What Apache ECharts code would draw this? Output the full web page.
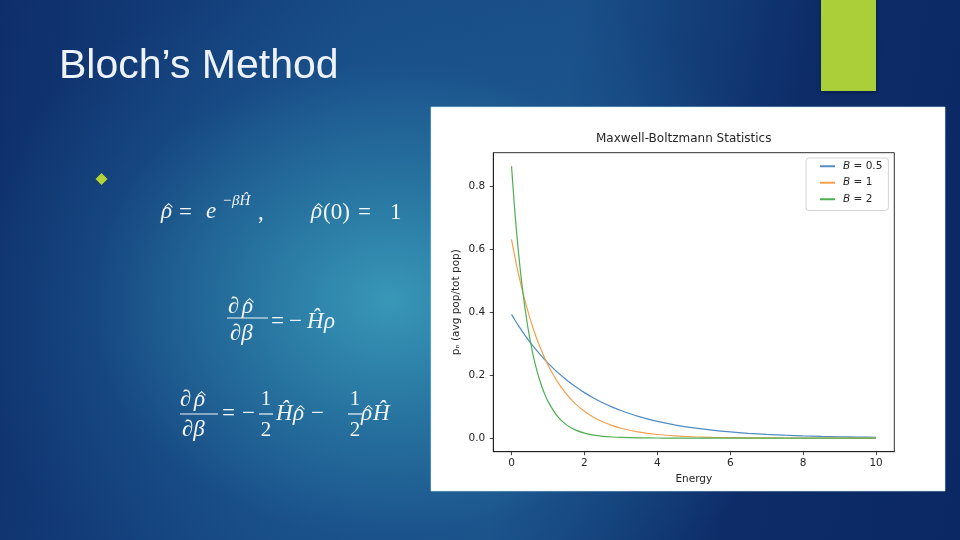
<!DOCTYPE html>
<html>
<head>
<meta charset="utf-8">
<script src="https://cdn.jsdelivr.net/npm/echarts@6/dist/echarts.min.js"></script>
<style>
html,body{margin:0;padding:0;width:960px;height:540px;overflow:hidden;}
body{
  background:
    radial-gradient(ellipse 430px 340px at 390px 300px, rgba(58,155,186,0.95) 0%, rgba(44,128,168,0.75) 35%, rgba(30,92,146,0.35) 70%, rgba(20,60,120,0) 100%),
    linear-gradient(100deg, #0e2e6a 0%, #174a86 35%, #1a4f88 55%, #0d2c68 78%, #0b2864 100%);
}
#chart{width:960px;height:540px;}
</style>
</head>
<body>
<div id="chart"></div>
<script>
// ---- data ----
const energy = [0,0.1,0.2,0.3,0.4,0.5,0.6,0.7,0.8,0.9,1.0,1.25,1.5,1.75,2.0,2.25,2.5,2.75,3.0,3.5,4,4.5,5,5.5,6,6.5,7,7.5,8,8.5,9,9.5,10];
const pB05 = [0.3935,0.3743,0.3561,0.3387,0.3222,0.3065,0.2915,0.2773,0.2638,0.2509,0.2387,0.2106,0.1859,0.1641,0.1447,0.1278,0.1127,0.0995,0.0878,0.0684,0.0533,0.0415,0.0323,0.0252,0.0196,0.0153,0.0119,0.0093,0.0072,0.0056,0.0044,0.0034,0.0027];
const pB1 = [0.6321,0.5720,0.5175,0.4683,0.4237,0.3834,0.3469,0.3139,0.2840,0.2570,0.2325,0.1811,0.1410,0.1098,0.0855,0.0666,0.0519,0.0404,0.0315,0.0191,0.0116,0.0070,0.0043,0.0026,0.0016,0.0010,0.0006,0.0004,0.0002,0.0001,0.0001,0.0000,0.0000];
const pB2 = [0.8647,0.7079,0.5796,0.4746,0.3885,0.3181,0.2604,0.2132,0.1746,0.1429,0.1170,0.0710,0.0430,0.0261,0.0158,0.0096,0.0058,0.0035,0.0021,0.0008,0.0003,0.0001,0,0,0,0,0,0,0,0,0,0,0];
const seriesNames = ['B = 0.5','B = 1','B = 2'];
const xTicks = [0,2,4,6,8,10];
const yTicks = [0,0.2,0.4,0.6,0.8];
const chartTitle = 'Maxwell-Boltzmann Statistics';
const xName = 'Energy';
const yName = 'pₙ (avg pop/tot pop)';
const slideTitle = 'Bloch’s Method';

const colors = ['#4f8cc2','#f5a04e','#4fae52'];
const pair = (ys) => energy.map((x,i)=>[x, ys[i]]);
const seriesData = [pB05, pB1, pB2];

const W = '#f2f5fa';
const MATH = '"Liberation Serif","DejaVu Serif",serif';
function txt(x, y, text, size, italic, align){
  return {type:'text', x:x, y:y, z:10, style:{
    text:text, fill:W, align:align||'left', verticalAlign:'middle',
    font:(italic?'italic ':'') + size + 'px ' + MATH
  }};
}
function hat(cx, y, size){
  const hw = 0.17*size, yb = y - 0.2*size, yt = y - 0.36*size;
  return {type:'polyline', z:10, shape:{points:[[cx-hw,yb],[cx,yt],[cx+hw,yb]]}, style:{stroke:W, lineWidth:1.1, fill:null}};
}
function rhoHat(x, y, size){
  return [txt(x, y, 'ρ', size, true), hat(x + 0.33*size, y, size)];
}
function bar(x1,x2,y){
  return {type:'line', z:10, shape:{x1:x1,y1:y,x2:x2,y2:y}, style:{stroke:W, lineWidth:1.2}};
}

const S = 23;
const graphics = [
  // white chart panel
  {type:'rect', z:-5, shape:{x:431,y:107,width:514,height:384}, style:{fill:'#ffffff', stroke:'rgba(200,235,245,0.6)', lineWidth:1}},
  // green accent block
  {type:'rect', z:1, shape:{x:821,y:-2,width:55,height:93}, style:{fill:'#aacf38', shadowBlur:4, shadowColor:'rgba(0,0,0,0.35)', shadowOffsetY:1}},
  // slide title
  {type:'text', x:59, y:67, z:10, style:{text:slideTitle, fill:'#eef2fa', font:'41px "Liberation Sans", Arial, sans-serif', verticalAlign:'middle'}},
  // bullet diamond
  {type:'polygon', z:10, shape:{points:[[101.5,173],[107.5,179],[101.5,185],[95.5,179]]}, style:{fill:'#b3d336'}},
  // formula 1
  ...rhoHat(161, 212, S),
  txt(179, 213, '=', S),
  txt(206, 212, 'e', S, true),
  txt(222, 201, '−βĤ', 15, true),
  txt(258, 213, ',', S),
  ...rhoHat(311, 212, S),
  txt(323, 213, '(0)', S),
  txt(358, 213, '=', S),
  txt(390, 213, '1', S),
  // formula 2
  txt(228, 307, '∂', S, true),
  ...rhoHat(242, 307, S),
  bar(227, 268, 318),
  txt(230, 334, '∂β', S, true),
  txt(271, 322, '=', S),
  txt(289, 322, '−', S),
  txt(307, 322, 'Ĥ', S, true),
  txt(324, 322, 'ρ', S, true),
  // formula 3
  txt(180, 400, '∂', S, true),
  ...rhoHat(194, 400, S),
  bar(180, 218, 414),
  txt(182, 430, '∂β', S, true),
  txt(222, 414, '=', S),
  txt(242, 414, '−', S),
  txt(266, 399, '1', 21, false, 'center'),
  bar(259, 273, 414),
  txt(266, 430, '2', 21, false, 'center'),
  txt(276, 414, 'Ĥ', S, true),
  ...rhoHat(293, 414, S),
  txt(311, 414, '−', S),
  txt(355, 399, '1', 21, false, 'center'),
  bar(348, 362, 414),
  txt(355, 430, '2', 21, false, 'center'),
  ...rhoHat(361, 414, S),
  txt(373, 414, 'Ĥ', S, true)
];

const FONT = '"DejaVu Sans", sans-serif';
const chart = echarts.init(document.getElementById('chart'), null, {renderer:'canvas'});
chart.setOption({
  backgroundColor:'transparent',
  animation:false,
  title:{text:chartTitle, left:596, top:133, padding:0,
    textStyle:{fontSize:12, fontWeight:'normal', color:'#262626', fontFamily:FONT}},
  legend:{
    data:seriesNames, left:806, top:158, orient:'vertical',
    backgroundColor:'rgba(255,255,255,0.9)', borderColor:'#d4d4d4', borderWidth:1, borderRadius:3,
    padding:[2,6,5,14], itemGap:4, itemWidth:15, itemHeight:2, icon:'rect',
    formatter:(n)=>'{i|B}{t|'+n.slice(1)+'}',
    textStyle:{color:'#262626', fontSize:10.5, fontFamily:FONT, lineHeight:12.5, padding:[0,0,0,3],
      rich:{i:{fontStyle:'italic', fontSize:10.5, fontFamily:FONT, color:'#262626'}, t:{fontSize:10.5, fontFamily:FONT, color:'#262626'}}}
  },
  grid:{left:493.3, right:65.7, top:152.7, bottom:88.3, show:true, backgroundColor:'#ffffff', borderColor:'#1a1a1a', borderWidth:0.9, containLabel:false},
  xAxis:{type:'value', min:-0.5, max:10.5,
    name:xName, nameLocation:'middle', nameGap:22,
    nameTextStyle:{fontSize:10.5, color:'#262626', fontFamily:FONT},
    axisLine:{show:true, onZero:false, lineStyle:{color:'#1a1a1a', width:0.9}},
    axisTick:{show:true, customValues:xTicks, length:3.5, lineStyle:{color:'#1a1a1a', width:0.8}},
    axisLabel:{customValues:xTicks, margin:6, fontSize:10.5, color:'#262626', fontFamily:FONT, formatter:(v)=>String(v)},
    splitLine:{show:false}},
  yAxis:{type:'value', min:-0.0432, max:0.9079,
    name:yName, nameLocation:'middle', nameGap:32,
    nameTextStyle:{fontSize:10.5, color:'#262626', fontFamily:FONT},
    axisLine:{show:true, onZero:false, lineStyle:{color:'#1a1a1a', width:0.9}},
    axisTick:{show:true, customValues:yTicks, length:3.5, lineStyle:{color:'#1a1a1a', width:0.8}},
    axisLabel:{customValues:yTicks, margin:8, fontSize:10.5, color:'#262626', fontFamily:FONT, formatter:(v)=>v.toFixed(1)},
    splitLine:{show:false}},
  series: seriesNames.map((n,i)=>({
    name:n, type:'line', data:pair(seriesData[i]), showSymbol:false, smooth:0.3,
    color:colors[i], lineStyle:{width:1.2, color:colors[i]}, z:2+i
  })),
  graphic:graphics
});
</script>
</body>
</html>
